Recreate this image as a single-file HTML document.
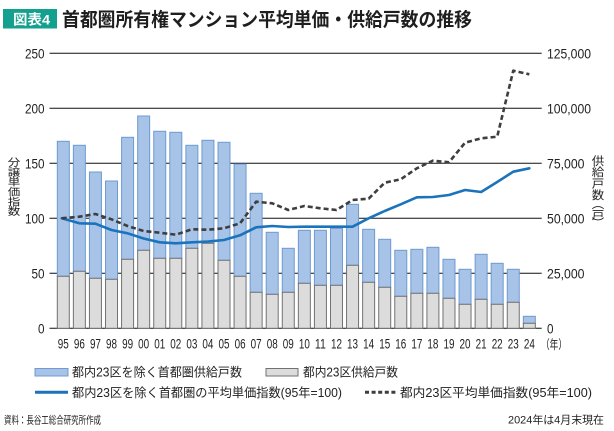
<!DOCTYPE html>
<html><head><meta charset="utf-8"><style>
html,body{margin:0;padding:0;background:#fff;}
svg{display:block;font-family:"Liberation Sans","Noto Sans CJK JP",sans-serif;}
</style></head><body>
<svg width="614" height="431" viewBox="0 0 614 431" xmlns="http://www.w3.org/2000/svg">
<!-- title -->
<rect x="3" y="9" width="54" height="19.5" fill="#14a08e"/>
<text x="13" y="24.5" font-size="14" font-weight="bold" fill="#fff" textLength="37" lengthAdjust="spacingAndGlyphs">図表4</text>
<text x="62" y="26" font-size="19" font-weight="bold" fill="#1e1e1e" textLength="410" lengthAdjust="spacingAndGlyphs">首都圏所有権マンション平均単価・供給戸数の推移</text>

<!-- grid -->
<g stroke="#111" stroke-width="1">
<line x1="49.5" y1="53.3" x2="541.7" y2="53.3"/>
<line x1="49.5" y1="108.3" x2="541.7" y2="108.3"/>
<line x1="49.5" y1="163.3" x2="541.7" y2="163.3"/>
<line x1="49.5" y1="218.3" x2="541.7" y2="218.3"/>
<line x1="49.5" y1="273.3" x2="541.7" y2="273.3"/>
<line x1="49.5" y1="328.3" x2="541.7" y2="328.3"/>
</g>

<!-- left labels -->
<g font-size="13.5" fill="#222" text-anchor="end">
<text x="44.5" y="58.3" textLength="19.5" lengthAdjust="spacingAndGlyphs">250</text>
<text x="44.5" y="113.3" textLength="19.5" lengthAdjust="spacingAndGlyphs">200</text>
<text x="44.5" y="168.3" textLength="19.5" lengthAdjust="spacingAndGlyphs">150</text>
<text x="44.5" y="223.3" textLength="19.5" lengthAdjust="spacingAndGlyphs">100</text>
<text x="44.5" y="278.3" textLength="13" lengthAdjust="spacingAndGlyphs">50</text>
<text x="44.5" y="333.3" textLength="6.5" lengthAdjust="spacingAndGlyphs">0</text>
</g>
<!-- right labels -->
<g font-size="13.5" fill="#222">
<text x="547" y="58.3" textLength="44" lengthAdjust="spacingAndGlyphs">125,000</text>
<text x="547" y="113.3" textLength="44" lengthAdjust="spacingAndGlyphs">100,000</text>
<text x="547" y="168.3" textLength="37.5" lengthAdjust="spacingAndGlyphs">75,000</text>
<text x="547" y="223.3" textLength="37.5" lengthAdjust="spacingAndGlyphs">50,000</text>
<text x="547" y="278.3" textLength="37.5" lengthAdjust="spacingAndGlyphs">25,000</text>
<text x="547" y="333.3" textLength="6.5" lengthAdjust="spacingAndGlyphs">0</text>
</g>

<!-- vertical axis titles -->
<g font-size="12.5" fill="#222" text-anchor="middle" transform="translate(14,157) scale(1,0.82)">
<text x="0" y="11">分</text>
<text x="0" y="23">譲</text>
<text x="0" y="35">単</text>
<text x="0" y="47">価</text>
<text x="0" y="59">指</text>
<text x="0" y="71">数</text>
</g>
<g font-size="12.5" fill="#222" text-anchor="middle" transform="translate(598,155) scale(1,0.9)">
<text x="0" y="11">供</text>
<text x="0" y="23.5">給</text>
<text x="0" y="36">戸</text>
<text x="0" y="49">数</text>
<text x="0" y="59">︵</text>
<text x="0" y="71">戸</text>
<text x="0" y="80">︶</text>
</g>

<!-- bars -->
<g stroke-width="1">
<g fill="#a7c3e8" stroke="#6f9bd0">
<rect x="57.3" y="141.3" width="12" height="135"/>
<rect x="73.37" y="145.3" width="12" height="126"/>
<rect x="89.44" y="172" width="12" height="106.3"/>
<rect x="105.51" y="181" width="12" height="98.3"/>
<rect x="121.58" y="137.3" width="12" height="122"/>
<rect x="137.65" y="116" width="12" height="134.3"/>
<rect x="153.72" y="131.3" width="12" height="127"/>
<rect x="169.79" y="132.3" width="12" height="126"/>
<rect x="185.86" y="145.3" width="12" height="103"/>
<rect x="201.93" y="140.3" width="12" height="103"/>
<rect x="218" y="142.3" width="12" height="118"/>
<rect x="234.07" y="164" width="12" height="112.3"/>
<rect x="250.14" y="193.3" width="12" height="99"/>
<rect x="266.21" y="232.3" width="12" height="62"/>
<rect x="282.28" y="248.3" width="12" height="44"/>
<rect x="298.35" y="230.3" width="12" height="53"/>
<rect x="314.42" y="230.3" width="12" height="55"/>
<rect x="330.49" y="228.3" width="12" height="57"/>
<rect x="346.56" y="204.3" width="12" height="61"/>
<rect x="362.63" y="229.3" width="12" height="53"/>
<rect x="378.7" y="239.3" width="12" height="48"/>
<rect x="394.77" y="250.3" width="12" height="46"/>
<rect x="410.84" y="249.3" width="12" height="44"/>
<rect x="426.91" y="247.3" width="12" height="46"/>
<rect x="442.98" y="259.3" width="12" height="39"/>
<rect x="459.05" y="269.3" width="12" height="35"/>
<rect x="475.12" y="254.3" width="12" height="45"/>
<rect x="491.19" y="263.3" width="12" height="41"/>
<rect x="507.26" y="269.3" width="12" height="33"/>
<rect x="523.33" y="316.3" width="12" height="7"/>
</g>
<g fill="#dcdcdc" stroke="#727272">
<rect x="57.3" y="276.3" width="12" height="52"/>
<rect x="73.37" y="271.3" width="12" height="57"/>
<rect x="89.44" y="278.3" width="12" height="50"/>
<rect x="105.51" y="279.3" width="12" height="49"/>
<rect x="121.58" y="259.3" width="12" height="69"/>
<rect x="137.65" y="250.3" width="12" height="78"/>
<rect x="153.72" y="258.3" width="12" height="70"/>
<rect x="169.79" y="258.3" width="12" height="70"/>
<rect x="185.86" y="248.3" width="12" height="80"/>
<rect x="201.93" y="243.3" width="12" height="85"/>
<rect x="218" y="260.3" width="12" height="68"/>
<rect x="234.07" y="276.3" width="12" height="52"/>
<rect x="250.14" y="292.3" width="12" height="36"/>
<rect x="266.21" y="294.3" width="12" height="34"/>
<rect x="282.28" y="292.3" width="12" height="36"/>
<rect x="298.35" y="283.3" width="12" height="45"/>
<rect x="314.42" y="285.3" width="12" height="43"/>
<rect x="330.49" y="285.3" width="12" height="43"/>
<rect x="346.56" y="265.3" width="12" height="63"/>
<rect x="362.63" y="282.3" width="12" height="46"/>
<rect x="378.7" y="287.3" width="12" height="41"/>
<rect x="394.77" y="296.3" width="12" height="32"/>
<rect x="410.84" y="293.3" width="12" height="35"/>
<rect x="426.91" y="293.3" width="12" height="35"/>
<rect x="442.98" y="298.3" width="12" height="30"/>
<rect x="459.05" y="304.3" width="12" height="24"/>
<rect x="475.12" y="299.3" width="12" height="29"/>
<rect x="491.19" y="304.3" width="12" height="24"/>
<rect x="507.26" y="302.3" width="12" height="26"/>
<rect x="523.33" y="323.3" width="12" height="5"/>
</g>
</g>

<!-- lines -->
<polyline fill="none" stroke="#1b74bb" stroke-width="2.6" stroke-linejoin="round" stroke-linecap="round"
points="61.7,218.3 79.37,223.3 95.44,223.7 111.51,230 127.58,233.3 143.65,238.5 159.72,242.3 175.79,243.3 191.86,242.3 207.93,241.6 224,240 240.07,235.3 256.14,227.3 272.21,226 288.28,227 304.35,226.7 320.42,226.7 336.49,226.7 352.56,226.7 368.63,218.3 384.7,211 400.77,204.3 416.84,197.3 432.91,197 448.98,195 465.05,190 481.12,192 497.19,182 513.26,171.7 529.33,168.3"/>
<polyline fill="none" stroke="#3e3e3e" stroke-width="2.6" stroke-dasharray="5 3" stroke-linejoin="round"
points="61.7,218.3 79.37,216.7 95.44,214 111.51,219.3 127.58,226 143.65,231 159.72,232.7 175.79,234.7 191.86,229.3 207.93,229.7 224,228.3 240.07,223.3 256.14,201.7 272.21,203.3 288.28,210 304.35,206 320.42,208.3 336.49,210 352.56,200 368.63,198.7 384.7,182.7 400.77,179.3 416.84,168.3 432.91,160.7 448.98,162.3 465.05,142.7 481.12,138.3 497.19,136.7 513.26,70.7 529.33,74.3"/>

<!-- x labels -->
<g font-size="14" fill="#222" text-anchor="middle">
<text x="63.3" y="348.5" textLength="11" lengthAdjust="spacingAndGlyphs">95</text>
<text x="79.37" y="348.5" textLength="11" lengthAdjust="spacingAndGlyphs">96</text>
<text x="95.44" y="348.5" textLength="11" lengthAdjust="spacingAndGlyphs">97</text>
<text x="111.51" y="348.5" textLength="11" lengthAdjust="spacingAndGlyphs">98</text>
<text x="127.58" y="348.5" textLength="11" lengthAdjust="spacingAndGlyphs">99</text>
<text x="143.65" y="348.5" textLength="11" lengthAdjust="spacingAndGlyphs">00</text>
<text x="159.72" y="348.5" textLength="11" lengthAdjust="spacingAndGlyphs">01</text>
<text x="175.79" y="348.5" textLength="11" lengthAdjust="spacingAndGlyphs">02</text>
<text x="191.86" y="348.5" textLength="11" lengthAdjust="spacingAndGlyphs">03</text>
<text x="207.93" y="348.5" textLength="11" lengthAdjust="spacingAndGlyphs">04</text>
<text x="224" y="348.5" textLength="11" lengthAdjust="spacingAndGlyphs">05</text>
<text x="240.07" y="348.5" textLength="11" lengthAdjust="spacingAndGlyphs">06</text>
<text x="256.14" y="348.5" textLength="11" lengthAdjust="spacingAndGlyphs">07</text>
<text x="272.21" y="348.5" textLength="11" lengthAdjust="spacingAndGlyphs">08</text>
<text x="288.28" y="348.5" textLength="11" lengthAdjust="spacingAndGlyphs">09</text>
<text x="304.35" y="348.5" textLength="11" lengthAdjust="spacingAndGlyphs">10</text>
<text x="320.42" y="348.5" textLength="11" lengthAdjust="spacingAndGlyphs">11</text>
<text x="336.49" y="348.5" textLength="11" lengthAdjust="spacingAndGlyphs">12</text>
<text x="352.56" y="348.5" textLength="11" lengthAdjust="spacingAndGlyphs">13</text>
<text x="368.63" y="348.5" textLength="11" lengthAdjust="spacingAndGlyphs">14</text>
<text x="384.7" y="348.5" textLength="11" lengthAdjust="spacingAndGlyphs">15</text>
<text x="400.77" y="348.5" textLength="11" lengthAdjust="spacingAndGlyphs">16</text>
<text x="416.84" y="348.5" textLength="11" lengthAdjust="spacingAndGlyphs">17</text>
<text x="432.91" y="348.5" textLength="11" lengthAdjust="spacingAndGlyphs">18</text>
<text x="448.98" y="348.5" textLength="11" lengthAdjust="spacingAndGlyphs">19</text>
<text x="465.05" y="348.5" textLength="11" lengthAdjust="spacingAndGlyphs">20</text>
<text x="481.12" y="348.5" textLength="11" lengthAdjust="spacingAndGlyphs">21</text>
<text x="497.19" y="348.5" textLength="11" lengthAdjust="spacingAndGlyphs">22</text>
<text x="513.26" y="348.5" textLength="11" lengthAdjust="spacingAndGlyphs">23</text>
<text x="529.33" y="348.5" textLength="11" lengthAdjust="spacingAndGlyphs">24</text>
</g>
<text x="541" y="349" font-size="12.5" fill="#222" textLength="26" lengthAdjust="spacingAndGlyphs">（年）</text>

<!-- legend -->
<rect x="35" y="368.5" width="33" height="7.5" fill="#a7c3e8" stroke="#6f9bd0" stroke-width="1"/>
<text x="72" y="376.5" font-size="12.5" fill="#222" textLength="170" lengthAdjust="spacingAndGlyphs">都内23区を除く首都圏供給戸数</text>
<rect x="266" y="368.5" width="32" height="7.5" fill="#dcdcdc" stroke="#727272" stroke-width="1"/>
<text x="303" y="376.5" font-size="12.5" fill="#222" textLength="95" lengthAdjust="spacingAndGlyphs">都内23区供給戸数</text>
<line x1="35" y1="392.3" x2="68" y2="392.3" stroke="#1b74bb" stroke-width="3"/>
<text x="72" y="396.8" font-size="12.5" fill="#222" textLength="270" lengthAdjust="spacingAndGlyphs">都内23区を除く首都圏の平均単価指数(95年=100)</text>
<line x1="365" y1="392.3" x2="397" y2="392.3" stroke="#3e3e3e" stroke-width="3" stroke-dasharray="4 2.6"/>
<text x="400" y="396.8" font-size="12.5" fill="#222" textLength="192" lengthAdjust="spacingAndGlyphs">都内23区平均単価指数(95年=100)</text>

<!-- footer -->
<text x="4" y="423.5" font-size="10.5" fill="#222" textLength="97" lengthAdjust="spacingAndGlyphs">資料：長谷工総合研究所作成</text>
<text x="604" y="423.5" font-size="11" fill="#222" text-anchor="end" textLength="96" lengthAdjust="spacingAndGlyphs">2024年は4月末現在</text>
</svg>
</body></html>
